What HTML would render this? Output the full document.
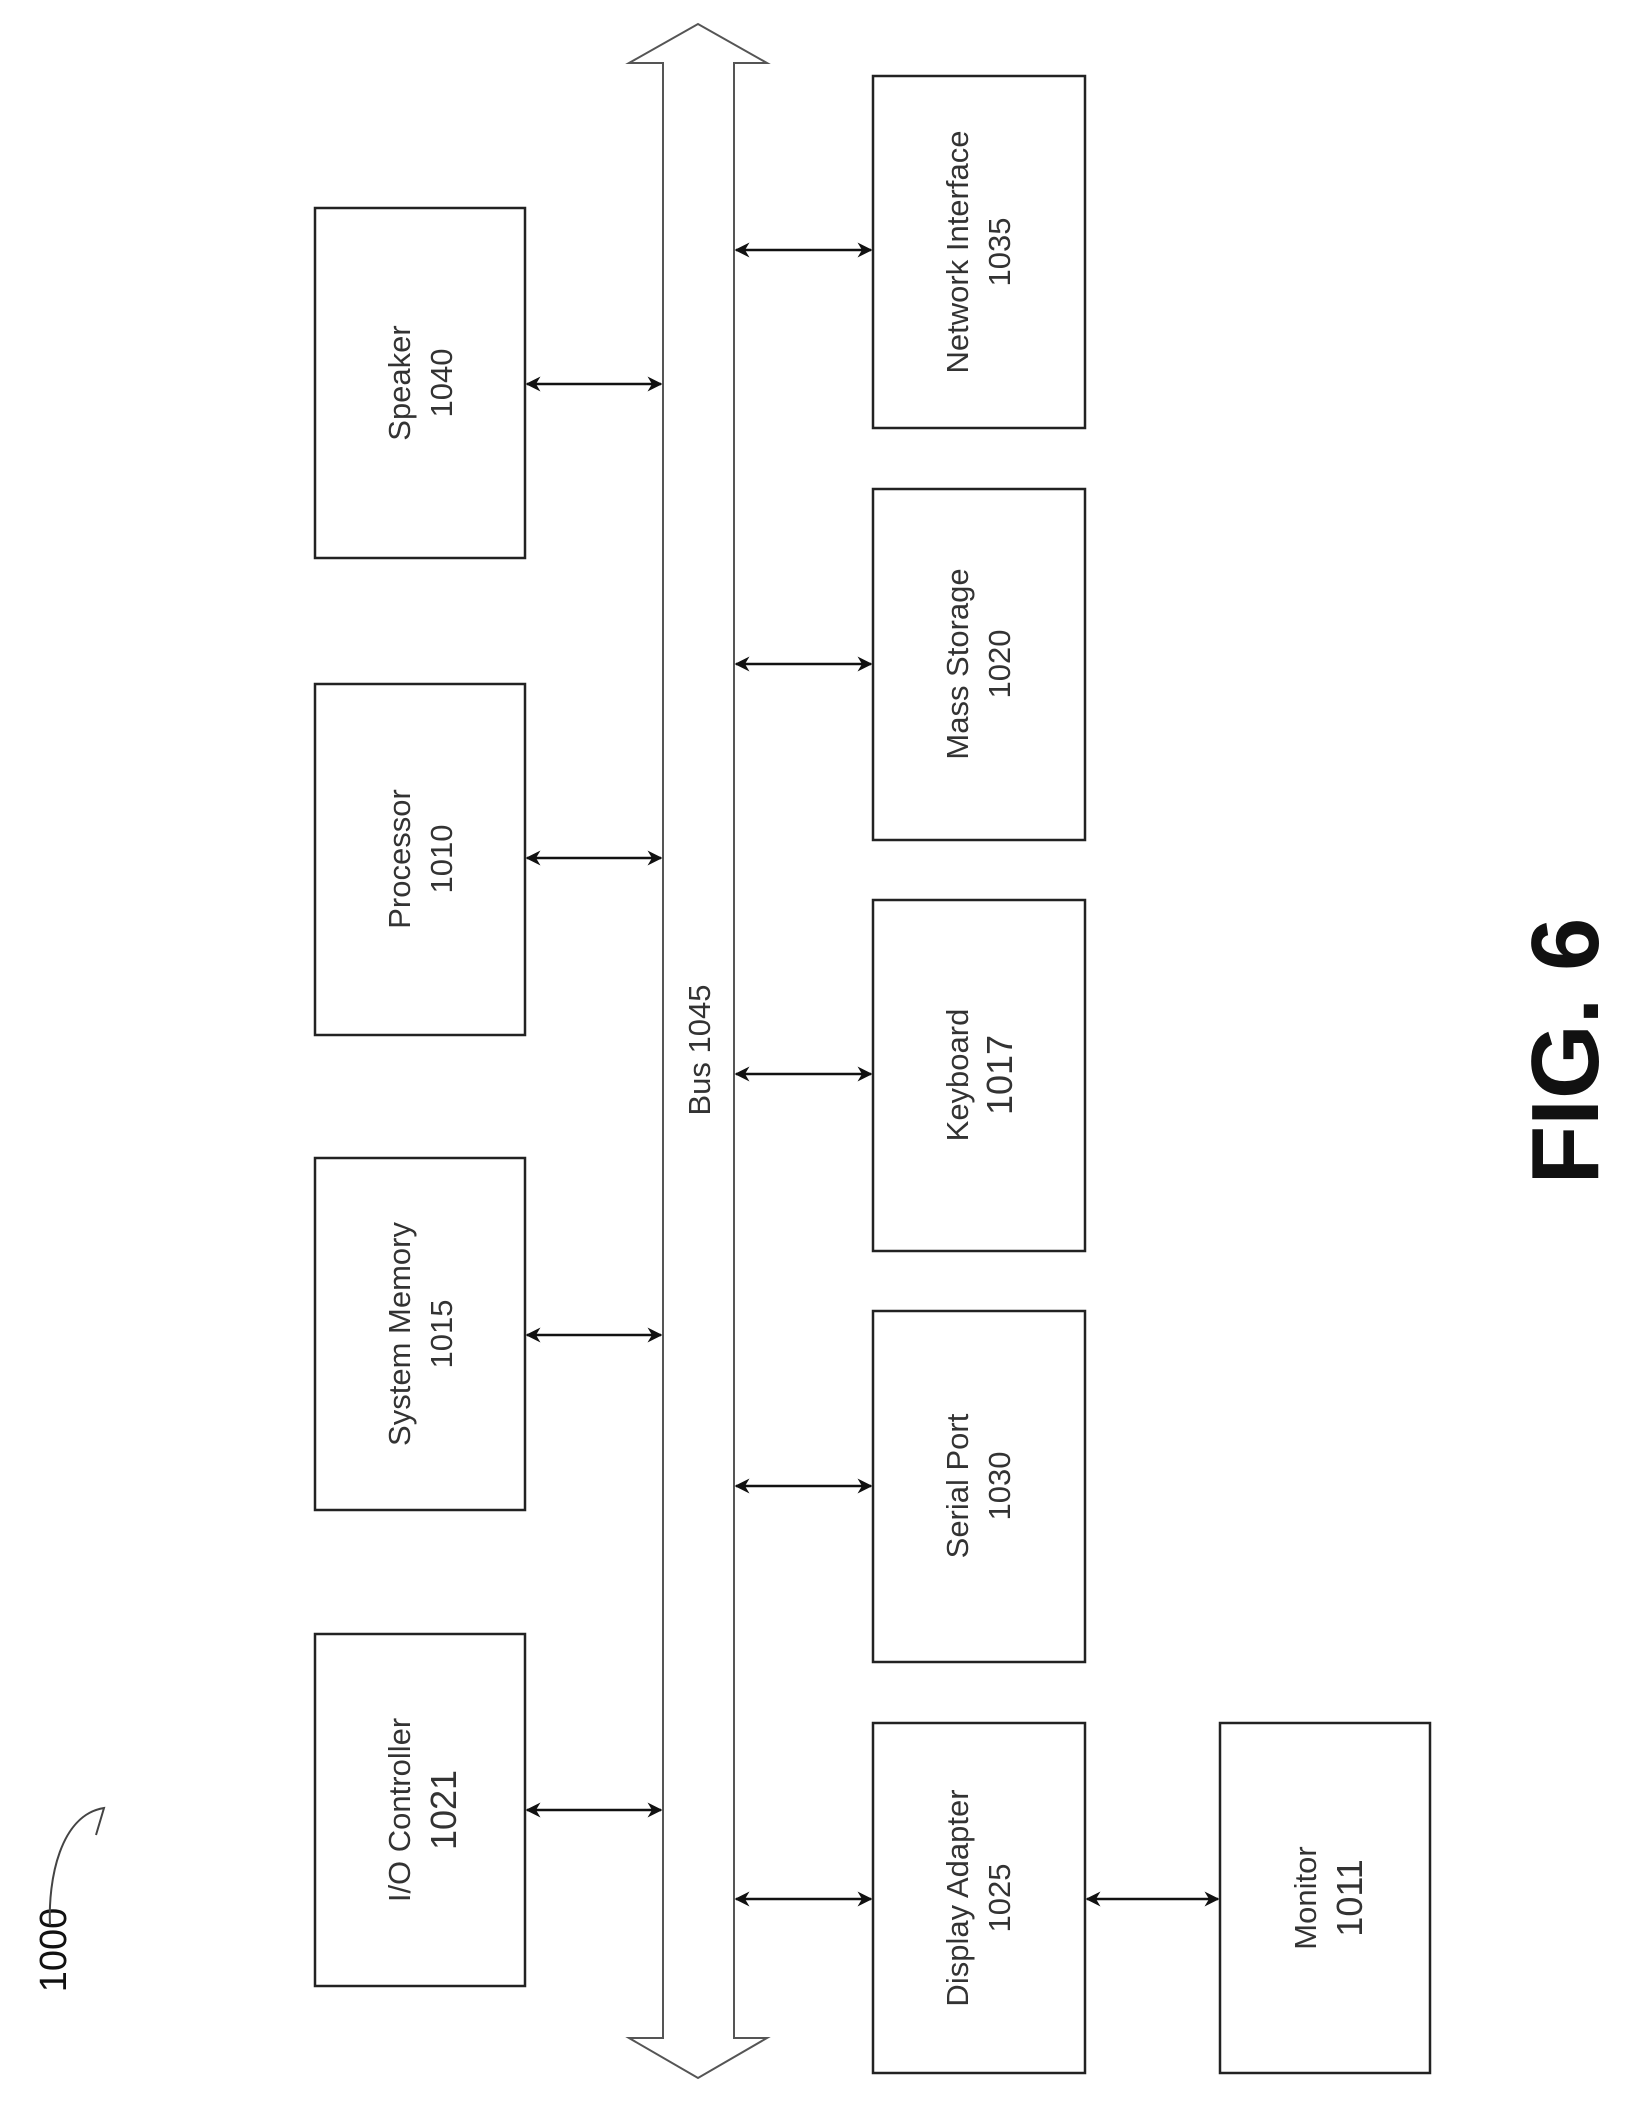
<!DOCTYPE html>
<html><head><meta charset="utf-8"><style>html,body{margin:0;padding:0;background:#fff}</style></head>
<body>
<svg width="1628" height="2104" viewBox="0 0 1628 2104" xmlns="http://www.w3.org/2000/svg" font-family="Liberation Sans, sans-serif">
<defs>
<marker id="a" viewBox="0 0 10 10" refX="9" refY="5" markerWidth="6" markerHeight="6" orient="auto-start-reverse"><path d="M0,0 L10,5 L0,10 L3,5 z" fill="#111"/></marker>
</defs>
<g fill="none" stroke="#222" stroke-width="2.5">
<rect x="315" y="208" width="210" height="350"/>
<rect x="315" y="684" width="210" height="351"/>
<rect x="315" y="1158" width="210" height="352"/>
<rect x="315" y="1634" width="210" height="352"/>
<rect x="873" y="76" width="212" height="352"/>
<rect x="873" y="489" width="212" height="351"/>
<rect x="873" y="900" width="212" height="351"/>
<rect x="873" y="1311" width="212" height="351"/>
<rect x="873" y="1723" width="212" height="350"/>
<rect x="1220" y="1723" width="210" height="350"/>
<path d="M663,2038 L663,63 L629,63 L698,24 L767,63 L734,63 L734,2038 L767,2038 L698,2078 L629,2038 Z" stroke="#555" stroke-width="2"/>
</g>
<g stroke="#111" stroke-width="2.5" marker-start="url(#a)" marker-end="url(#a)">
<line x1="527" y1="384" x2="661" y2="384"/>
<line x1="527" y1="858" x2="661" y2="858"/>
<line x1="527" y1="1335" x2="661" y2="1335"/>
<line x1="527" y1="1810" x2="661" y2="1810"/>
<line x1="736" y1="250" x2="871" y2="250"/>
<line x1="736" y1="664" x2="871" y2="664"/>
<line x1="736" y1="1074" x2="871" y2="1074"/>
<line x1="736" y1="1486" x2="871" y2="1486"/>
<line x1="736" y1="1899" x2="871" y2="1899"/>
<line x1="1087" y1="1899" x2="1218" y2="1899"/>
</g>
<g fill="#333" font-size="31" text-anchor="middle">
<text transform="translate(410,383) rotate(-90)">Speaker</text>
<text transform="translate(452,383) rotate(-90)">1040</text>
<text transform="translate(410,859) rotate(-90)">Processor</text>
<text transform="translate(452,859) rotate(-90)">1010</text>
<text transform="translate(410,1334) rotate(-90)">System Memory</text>
<text transform="translate(452,1334) rotate(-90)">1015</text>
<text transform="translate(410,1810) rotate(-90)">I/O Controller</text>
<text transform="translate(456,1810) rotate(-90)" font-size="36">1021</text>
<text transform="translate(968,252) rotate(-90)">Network Interface</text>
<text transform="translate(1010,252) rotate(-90)">1035</text>
<text transform="translate(968,664) rotate(-90)">Mass Storage</text>
<text transform="translate(1010,664) rotate(-90)">1020</text>
<text transform="translate(968,1075) rotate(-90)">Keyboard</text>
<text transform="translate(1012,1075) rotate(-90)" font-size="36">1017</text>
<text transform="translate(968,1486) rotate(-90)">Serial Port</text>
<text transform="translate(1010,1486) rotate(-90)">1030</text>
<text transform="translate(968,1898) rotate(-90)">Display Adapter</text>
<text transform="translate(1010,1898) rotate(-90)">1025</text>
<text transform="translate(1316,1898) rotate(-90)">Monitor</text>
<text transform="translate(1362,1898) rotate(-90)" font-size="36">1011</text>
<text transform="translate(710,1050) rotate(-90)">Bus 1045</text>
<text transform="translate(66,1950) rotate(-90)" font-size="38" fill="#111">1000</text>
</g>
<path d="M50,1925 C48,1880 60,1815 104,1808 L96,1835" fill="none" stroke="#444" stroke-width="2"/>
<text transform="translate(1598,1051) rotate(-90)" font-size="96" font-weight="bold" text-anchor="middle" fill="#111">FIG. 6</text>
</svg>
</body></html>
